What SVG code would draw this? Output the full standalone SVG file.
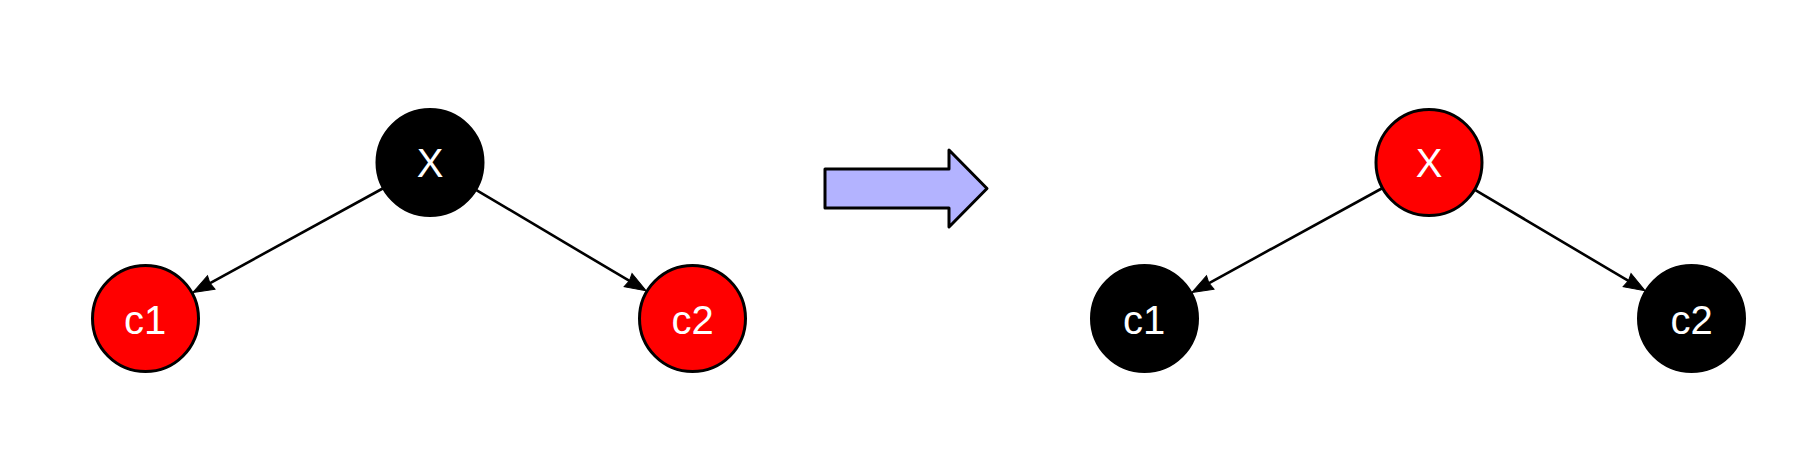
<svg xmlns="http://www.w3.org/2000/svg" width="1798" height="460" viewBox="0 0 1798 460">
<style>
.red{fill:#ff0000;stroke:#000;stroke-width:3}
.blk{fill:#000;stroke:#000;stroke-width:3}
.lbl{font-family:"Liberation Sans",Arial,Helvetica,sans-serif;font-size:40px;fill:#fff;text-anchor:middle}
.edge{stroke:#000;stroke-width:2.6;fill:none}
</style>
<defs>
<marker id="ah" markerUnits="userSpaceOnUse" markerWidth="22" markerHeight="16" refX="7" refY="7.75" orient="auto" overflow="visible">
<path d="M0,0 L21,7.75 L0,15.5 L1.5,7.75 Z" fill="#000" stroke="#000" stroke-width="1" stroke-linejoin="miter"/>
</marker>
</defs>
<rect width="1798" height="460" fill="#fff"/>
<g id="connectors">
<line class="edge" x1="382.7" y1="188.5" x2="205.1" y2="285.8" marker-end="url(#ah)"/>
<line class="edge" x1="476.4" y1="190.1" x2="634.1" y2="283.7" marker-end="url(#ah)"/>
<line class="edge" x1="1381.7" y1="188.5" x2="1204.1" y2="285.8" marker-end="url(#ah)"/>
<line class="edge" x1="1475.4" y1="190.1" x2="1633.1" y2="283.7" marker-end="url(#ah)"/>
</g>
<g id="L_x"><circle class="blk" cx="430" cy="162.5" r="53"/><text class="lbl" x="430" y="177">X</text></g>
<g id="L_c1"><circle class="red" cx="145.5" cy="318.5" r="53"/><text class="lbl" x="145" y="334">c1</text></g>
<g id="L_c2"><circle class="red" cx="692.5" cy="318.5" r="53"/><text class="lbl" x="692.5" y="334">c2</text></g>
<g id="transform_arrow"><polygon points="825,169 949,169 949,150 987,188.5 949,227 949,208 825,208" fill="#b3b3ff" stroke="#000" stroke-width="3" stroke-linejoin="round"/></g>
<g id="R_x"><circle class="red" cx="1429" cy="162.5" r="53"/><text class="lbl" x="1429" y="177">X</text></g>
<g id="R_c1"><circle class="blk" cx="1144.5" cy="318.5" r="53"/><text class="lbl" x="1144" y="334">c1</text></g>
<g id="R_c2"><circle class="blk" cx="1691.5" cy="318.5" r="53"/><text class="lbl" x="1691.5" y="334">c2</text></g>
</svg>
